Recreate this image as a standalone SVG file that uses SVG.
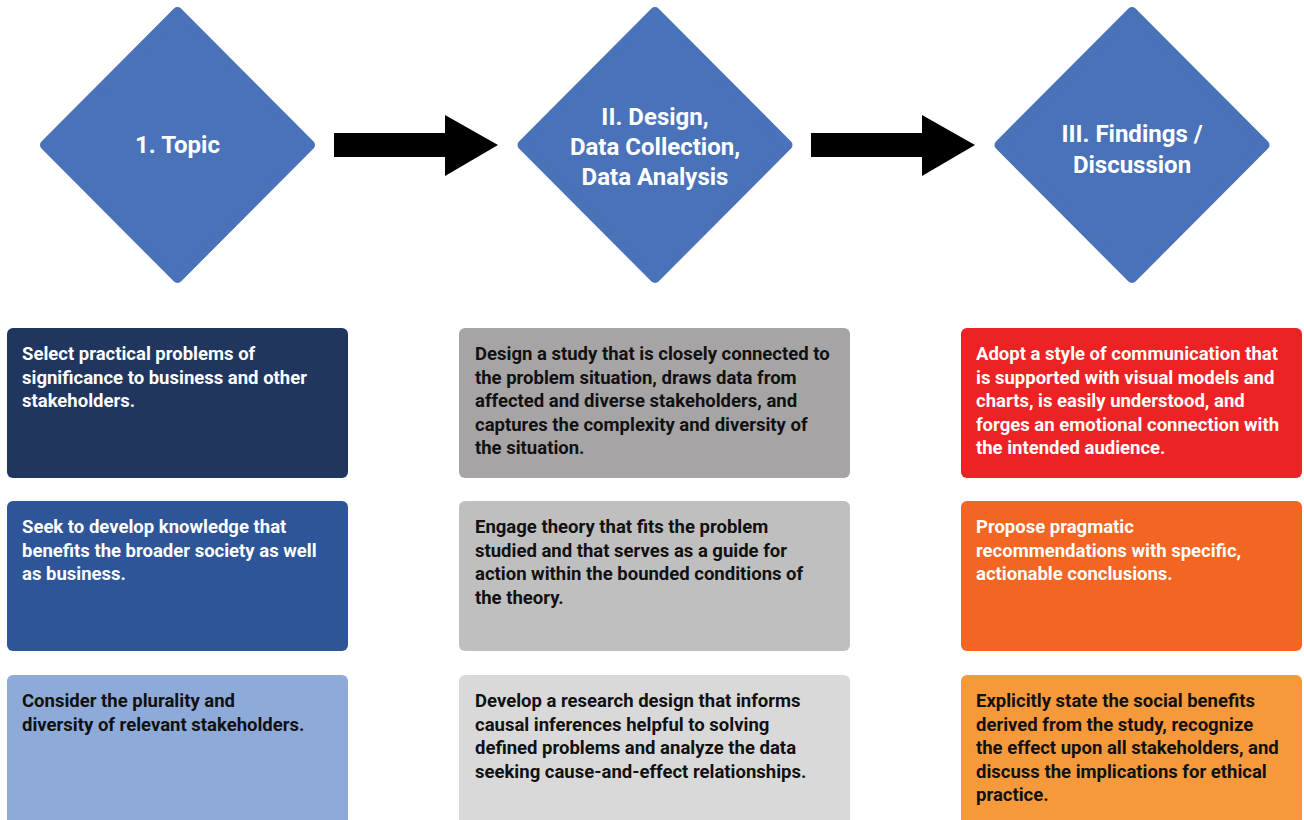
<svg xmlns="http://www.w3.org/2000/svg" width="1304" height="820" viewBox="0 0 1304 820">
<style>
.dia{fill:#4a72b8;stroke:#4a72b8;stroke-width:10;stroke-linejoin:round}
.dl{font-family:Roboto,"Open Sans",sans-serif;font-weight:700;font-size:24px;fill:#fff;text-anchor:middle}
.bt{font-family:Roboto,"Open Sans",sans-serif;font-weight:700;font-size:18.5px}
.w{fill:#fff}.k{fill:#111}
.arr{fill:#000}
</style>
<rect width="1304" height="820" fill="#fff"/>
<g id="node-topic">
<polygon class="dia" points="177.5,12 310,145 177.5,278 45,145"/>
<text class="dl" x="177.5" y="152.5">1. Topic</text>
</g>
<g id="node-design">
<polygon class="dia" points="655,12 787.5,145 655,278 522.5,145"/>
<text class="dl"><tspan x="655" y="124.5">II. Design,</tspan><tspan x="655" y="154.5">Data Collection,</tspan><tspan x="655" y="184.5">Data Analysis</tspan></text>
</g>
<g id="node-findings">
<polygon class="dia" points="1132,12 1264.5,145 1132,278 999.5,145"/>
<text class="dl"><tspan x="1132" y="142">III. Findings /</tspan><tspan x="1132" y="173">Discussion</tspan></text>
</g>
<g id="connectors">
<polygon class="arr" points="334,133 445,133 445,115 498,145 445,176 445,157 334,157"/>
<polygon class="arr" points="811,133 922,133 922,115 975,145 922,176 922,157 811,157"/>
</g>
<g id="box-c1r1">
<rect x="7" y="328" width="341" height="150" rx="6" fill="#21365f"/>
<text class="bt w"><tspan x="22" y="360">Select practical problems of</tspan><tspan x="22" y="383.5">significance to business and other</tspan><tspan x="22" y="407">stakeholders.</tspan></text>
</g>
<g id="box-c1r2">
<rect x="7" y="501" width="341" height="150" rx="6" fill="#2e5597"/>
<text class="bt w"><tspan x="22" y="533">Seek to develop knowledge that</tspan><tspan x="22" y="556.5">benefits the broader society as well</tspan><tspan x="22" y="580">as business.</tspan></text>
</g>
<g id="box-c1r3">
<rect x="7" y="675" width="341" height="160" rx="6" fill="#8eaad8"/>
<text class="bt k"><tspan x="22" y="707">Consider the plurality and</tspan><tspan x="22" y="730.5">diversity of relevant stakeholders.</tspan></text>
</g>
<g id="box-c2r1">
<rect x="459" y="328" width="391" height="150" rx="6" fill="#a6a4a5"/>
<text class="bt k"><tspan x="475" y="360">Design a study that is closely connected to</tspan><tspan x="475" y="383.5">the problem situation, draws data from</tspan><tspan x="475" y="407">affected and diverse stakeholders, and</tspan><tspan x="475" y="430.5">captures the complexity and diversity of</tspan><tspan x="475" y="454">the situation.</tspan></text>
</g>
<g id="box-c2r2">
<rect x="459" y="501" width="391" height="150" rx="6" fill="#bfbfbf"/>
<text class="bt k"><tspan x="475" y="533">Engage theory that fits the problem</tspan><tspan x="475" y="556.5">studied and that serves as a guide for</tspan><tspan x="475" y="580">action within the bounded conditions of</tspan><tspan x="475" y="603.5">the theory.</tspan></text>
</g>
<g id="box-c2r3">
<rect x="459" y="675" width="391" height="160" rx="6" fill="#d9d9d9"/>
<text class="bt k"><tspan x="475" y="707">Develop a research design that informs</tspan><tspan x="475" y="730.5">causal inferences helpful to solving</tspan><tspan x="475" y="754">defined problems and analyze the data</tspan><tspan x="475" y="777.5">seeking cause-and-effect relationships.</tspan></text>
</g>
<g id="box-c3r1">
<rect x="961" y="328" width="341" height="150" rx="6" fill="#ed2224"/>
<text class="bt w"><tspan x="976" y="360">Adopt a style of communication that</tspan><tspan x="976" y="383.5">is supported with visual models and</tspan><tspan x="976" y="407">charts, is easily understood, and</tspan><tspan x="976" y="430.5">forges an emotional connection with</tspan><tspan x="976" y="454">the intended audience.</tspan></text>
</g>
<g id="box-c3r2">
<rect x="961" y="501" width="341" height="150" rx="6" fill="#f26522"/>
<text class="bt w"><tspan x="976" y="533">Propose pragmatic</tspan><tspan x="976" y="556.5">recommendations with specific,</tspan><tspan x="976" y="580">actionable conclusions.</tspan></text>
</g>
<g id="box-c3r3">
<rect x="961" y="675" width="341" height="160" rx="6" fill="#f6993a"/>
<text class="bt k"><tspan x="976" y="707">Explicitly state the social benefits</tspan><tspan x="976" y="730.5">derived from the study, recognize</tspan><tspan x="976" y="754">the effect upon all stakeholders, and</tspan><tspan x="976" y="777.5">discuss the implications for ethical</tspan><tspan x="976" y="801">practice.</tspan></text>
</g>
</svg>
